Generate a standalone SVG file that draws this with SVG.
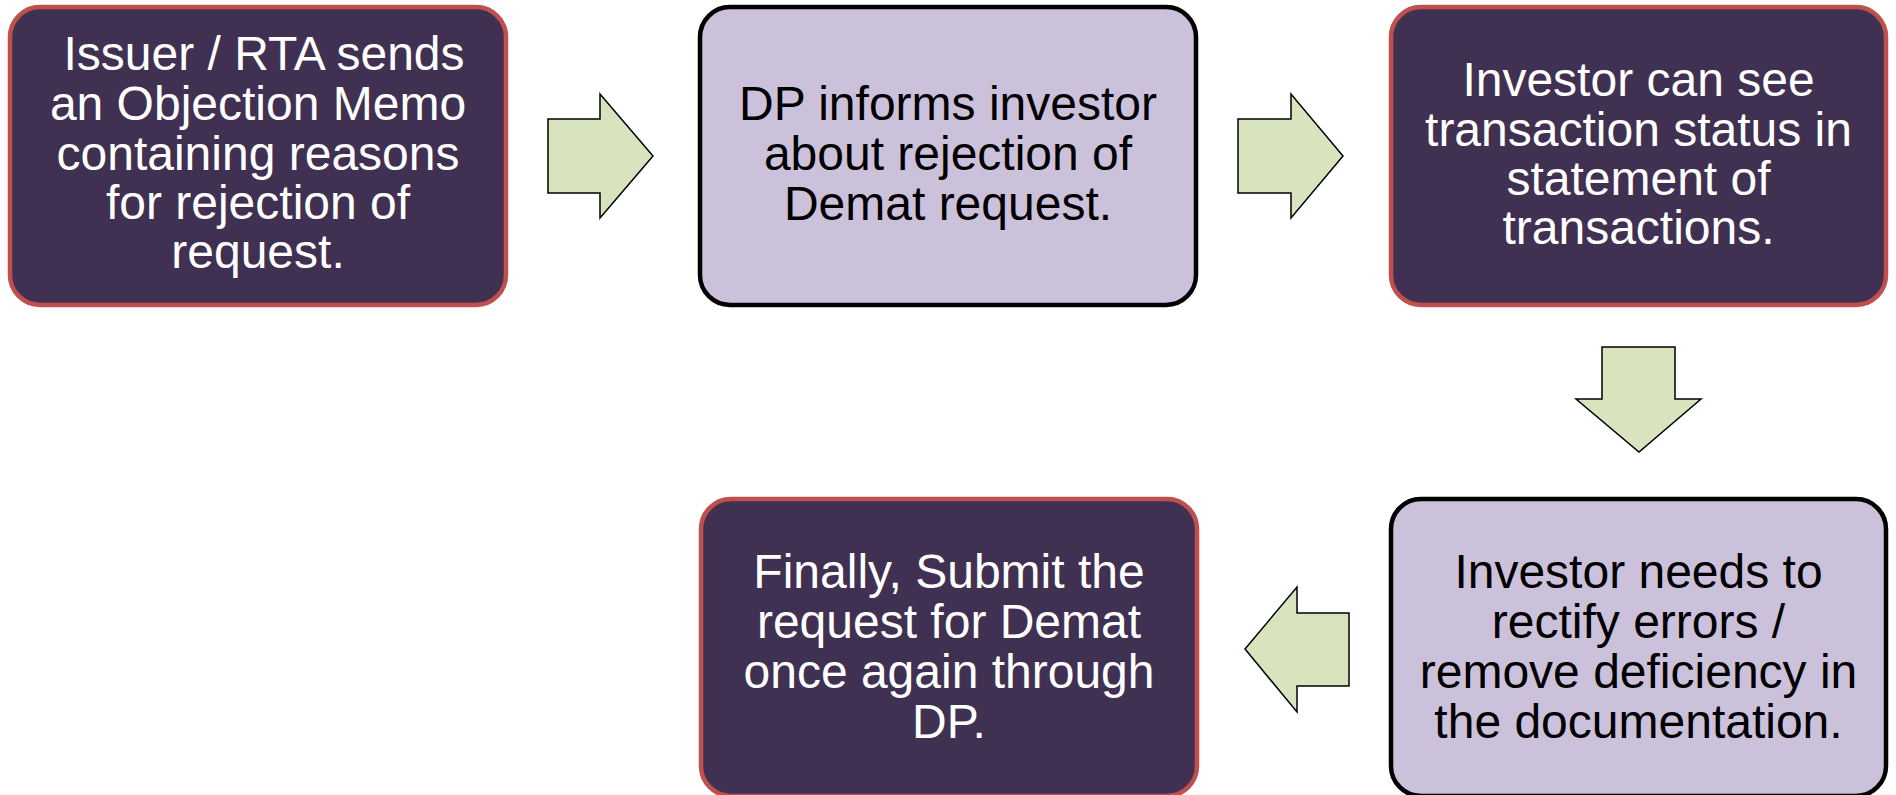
<svg xmlns="http://www.w3.org/2000/svg" width="1896" height="795" viewBox="0 0 1896 795">
<style>
.dark{fill:#403152;stroke:#C0504D;stroke-width:4.5}
.light{fill:#CCC1DA;stroke:#000;stroke-width:4.5}
.arr{fill:#D7E4BD;stroke:#000;stroke-width:1.5;stroke-linejoin:miter}
text{font-family:"Liberation Sans",Arial,sans-serif;font-size:48px;text-anchor:middle}
.tw{fill:#fff}
.tb{fill:#000}
</style>
<rect width="1896" height="795" fill="#fff"/>
<g id="connectors">
<polygon class="arr" points="548,119 600,119 600,94 653,156 600,218 600,193 548,193"/>
<polygon class="arr" points="1238,119 1291,119 1291,94 1343,156 1291,218 1291,193 1238,193"/>
<polygon class="arr" points="1602,347 1675,347 1675,399 1701,399 1639,452 1576,399 1602,399"/>
<polygon class="arr" points="1349,613 1297,613 1297,587 1245,649 1297,712 1297,686 1349,686"/>
</g>
<g id="node1">
<rect class="dark" x="10" y="7" width="496" height="298" rx="30"/>
<text class="tw"><tspan x="264" y="70">Issuer / RTA sends</tspan><tspan x="258" y="120">an Objection Memo</tspan><tspan x="258" y="170">containing reasons</tspan><tspan x="258" y="219">for rejection of</tspan><tspan x="258" y="268">request.</tspan></text>
</g>
<g id="node2">
<rect class="light" x="700" y="7" width="496" height="298" rx="30"/>
<text class="tb"><tspan x="948" y="120">DP informs investor</tspan><tspan x="948" y="170">about rejection of</tspan><tspan x="948" y="220">Demat request.</tspan></text>
</g>
<g id="node3">
<rect class="dark" x="1391" y="7" width="495" height="298" rx="30"/>
<text class="tw"><tspan x="1638.5" y="96">Investor can see</tspan><tspan x="1638.5" y="146">transaction status in</tspan><tspan x="1638.5" y="195">statement of</tspan><tspan x="1638.5" y="244">transactions.</tspan></text>
</g>
<g id="node4">
<rect class="light" x="1391" y="499" width="495" height="297" rx="30"/>
<text class="tb"><tspan x="1638.5" y="588">Investor needs to</tspan><tspan x="1638.5" y="638">rectify errors /</tspan><tspan x="1638.5" y="688">remove deficiency in</tspan><tspan x="1638.5" y="738">the documentation.</tspan></text>
</g>
<g id="node5">
<rect class="dark" x="701" y="499" width="496" height="297" rx="30"/>
<text class="tw"><tspan x="949" y="588">Finally, Submit the</tspan><tspan x="949" y="638">request for Demat</tspan><tspan x="949" y="688">once again through</tspan><tspan x="949" y="738">DP.</tspan></text>
</g>
</svg>
